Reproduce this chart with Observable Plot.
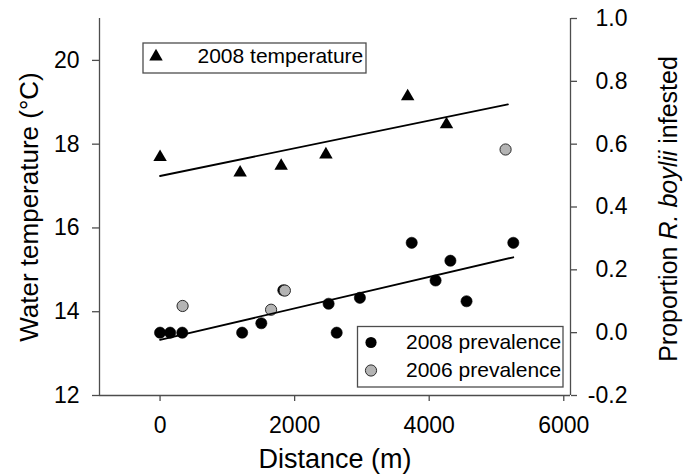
<!DOCTYPE html>
<html><head><meta charset="utf-8">
<script src="https://cdn.jsdelivr.net/npm/d3@7"></script>
<script src="https://cdn.jsdelivr.net/npm/@observablehq/plot@0.6"></script>
<style>html,body{margin:0;padding:0;background:#fff} #chart svg{display:block}</style>
</head><body><div id="chart"></div>
<script>
// ---- data ----
const tempDistance = [0, 1190, 1800, 2465, 3680, 4257];
const temperature2008 = [17.69, 17.32, 17.48, 17.75, 19.14, 18.47];
const prevDistance2008 = [0, 150, 330, 1220, 1505, 1832, 2505, 2625, 2970, 3740, 4095, 4315, 4555, 5250];
const prevalence2008 = [0, 0, 0, 0, 0.03, 0.135, 0.092, 0, 0.111, 0.286, 0.166, 0.229, 0.100, 0.286];
const prevDistance2006 = [335, 1650, 1855, 5135];
const prevalence2006 = [0.085, 0.073, 0.134, 0.583];
const tempFitDistance = [0, 5170];
const tempFit = [17.24, 18.95];
const prevFitDistance = [0, 5250];
const prevFit = [-0.023, 0.240];
const xTicks = [0, 2000, 4000, 6000];
const tempTicks = [12, 14, 16, 18, 20];
const propTicks = [-0.2, 0, 0.2, 0.4, 0.6, 0.8, 1.0];
const propTickLabels = ["-0.2", "0.0", "0.2", "0.4", "0.6", "0.8", "1.0"];

// right axis (proportion) maps onto the left (temperature) scale: -0.2 -> 12, 1.0 -> 21
const toTemp = p => 12 + (p + 0.2) * 7.5;

const tempRows = tempDistance.map((d, i) => ({distance: d, value: temperature2008[i]}));
const prev08Rows = prevDistance2008.map((d, i) => ({distance: d, value: toTemp(prevalence2008[i])}));
const prev06Rows = prevDistance2006.map((d, i) => ({distance: d, value: toTemp(prevalence2006[i])}));
const tempFitRows = tempFitDistance.map((d, i) => ({distance: d, value: tempFit[i]}));
const prevFitRows = prevFitDistance.map((d, i) => ({distance: d, value: toTemp(prevFit[i])}));

const FONT = "'Liberation Sans', Arial, Helvetica, sans-serif";
const AXIS = "#4d4d4d";
const GRAY = "#b4b4b4";
const rightTitle = "Proportion R. boylii infested";

const chart = Plot.plot({
  width: 693,
  height: 475,
  marginLeft: 99,
  marginRight: 123,
  marginTop: 18,
  marginBottom: 80,
  style: {fontFamily: FONT, background: "#fff", color: "#000", overflow: "visible"},
  x: {domain: [-900, 6100]},
  y: {domain: [12, 21]},
  marks: [
    Plot.ruleX([-900], {stroke: AXIS, strokeWidth: 1.3}),
    Plot.ruleX([6100], {stroke: AXIS, strokeWidth: 1.3}),
    Plot.ruleY([12], {stroke: AXIS, strokeWidth: 1.3}),
    Plot.axisX(xTicks, {tickFormat: d => String(d), tickSize: 6, tickPadding: 15, fontSize: 23,
      stroke: AXIS, fill: "#000", strokeWidth: 1.3, label: null}),
    Plot.axisY(tempTicks, {anchor: "left", tickFormat: d => String(d), tickSize: 7, tickPadding: 13, fontSize: 23,
      stroke: AXIS, fill: "#000", strokeWidth: 1.3, label: null}),
    Plot.axisY(propTicks.map(toTemp), {anchor: "right",
      tickFormat: d => propTickLabels[propTicks.findIndex(p => Math.abs(toTemp(p) - d) < 1e-6)],
      tickSize: 6, tickPadding: 51, textAnchor: "end", fontSize: 23,
      stroke: AXIS, fill: "#000", strokeWidth: 1.3, label: null}),
    Plot.text(["Distance (m)"], {frameAnchor: "bottom", dy: 72.5, lineAnchor: "bottom", fontSize: 27, fill: "#000"}),
    Plot.text(["Water temperature (°C)"], {frameAnchor: "left", dx: -70, rotate: -90, lineAnchor: "middle", textAnchor: "middle", fontSize: 26, fill: "#000"}),
    Plot.text([rightTitle], {frameAnchor: "right", dx: 98.7, dy: 2, rotate: -90, lineAnchor: "middle", textAnchor: "middle", fontSize: 25, fill: "#000"}),
    Plot.dot(tempRows, {x: "distance", y: "value", symbol: "triangle", r: 5, fill: "#000", stroke: "none"}),
    Plot.dot(prev08Rows, {x: "distance", y: "value", r: 5.6, fill: "#000", stroke: "#000", strokeWidth: 0.6}),
    Plot.dot(prev06Rows, {x: "distance", y: "value", r: 5.6, fill: GRAY, stroke: "#2a2a2a", strokeWidth: 1}),
    Plot.line(tempFitRows, {x: "distance", y: "value", stroke: "#000", strokeWidth: 1.8}),
    Plot.line(prevFitRows, {x: "distance", y: "value", stroke: "#000", strokeWidth: 1.8})
  ]
});

document.getElementById("chart").appendChild(chart);

const svg = d3.select(chart);
// italic species name in the right-hand title
svg.selectAll("text").filter(function() { return this.textContent === rightTitle; }).each(function() {
  const t = d3.select(this);
  t.text(null);
  t.append("tspan").text("Proportion ");
  t.append("tspan").attr("font-style", "italic").text("R. boylii");
  t.append("tspan").text(" infested");
});

// legends
const lg = svg.append("g").attr("font-family", FONT).attr("font-size", 21)
  .attr("text-anchor", "start").attr("fill", "#000");
lg.append("rect").attr("x", 143).attr("y", 43).attr("width", 223).attr("height", 30)
  .attr("fill", "#fff").attr("stroke", AXIS).attr("stroke-width", 1.3);
lg.append("path").attr("d", d3.symbol(d3.symbolTriangle, Math.PI * 25)())
  .attr("transform", "translate(156,56.5)").attr("fill", "#000");
lg.append("text").attr("x", 197.5).attr("y", 62.5).text("2008 temperature");

lg.append("rect").attr("x", 357.5).attr("y", 326.5).attr("width", 205.5).attr("height", 60.5)
  .attr("fill", "#fff").attr("stroke", AXIS).attr("stroke-width", 1.3);
lg.append("circle").attr("cx", 371).attr("cy", 342.5).attr("r", 5.6).attr("fill", "#000");
lg.append("circle").attr("cx", 371).attr("cy", 370.5).attr("r", 5.6).attr("fill", GRAY)
  .attr("stroke", "#2a2a2a").attr("stroke-width", 1);
lg.append("text").attr("x", 406).attr("y", 349).text("2008 prevalence");
lg.append("text").attr("x", 406).attr("y", 376.5).text("2006 prevalence");
</script>
</body></html>
